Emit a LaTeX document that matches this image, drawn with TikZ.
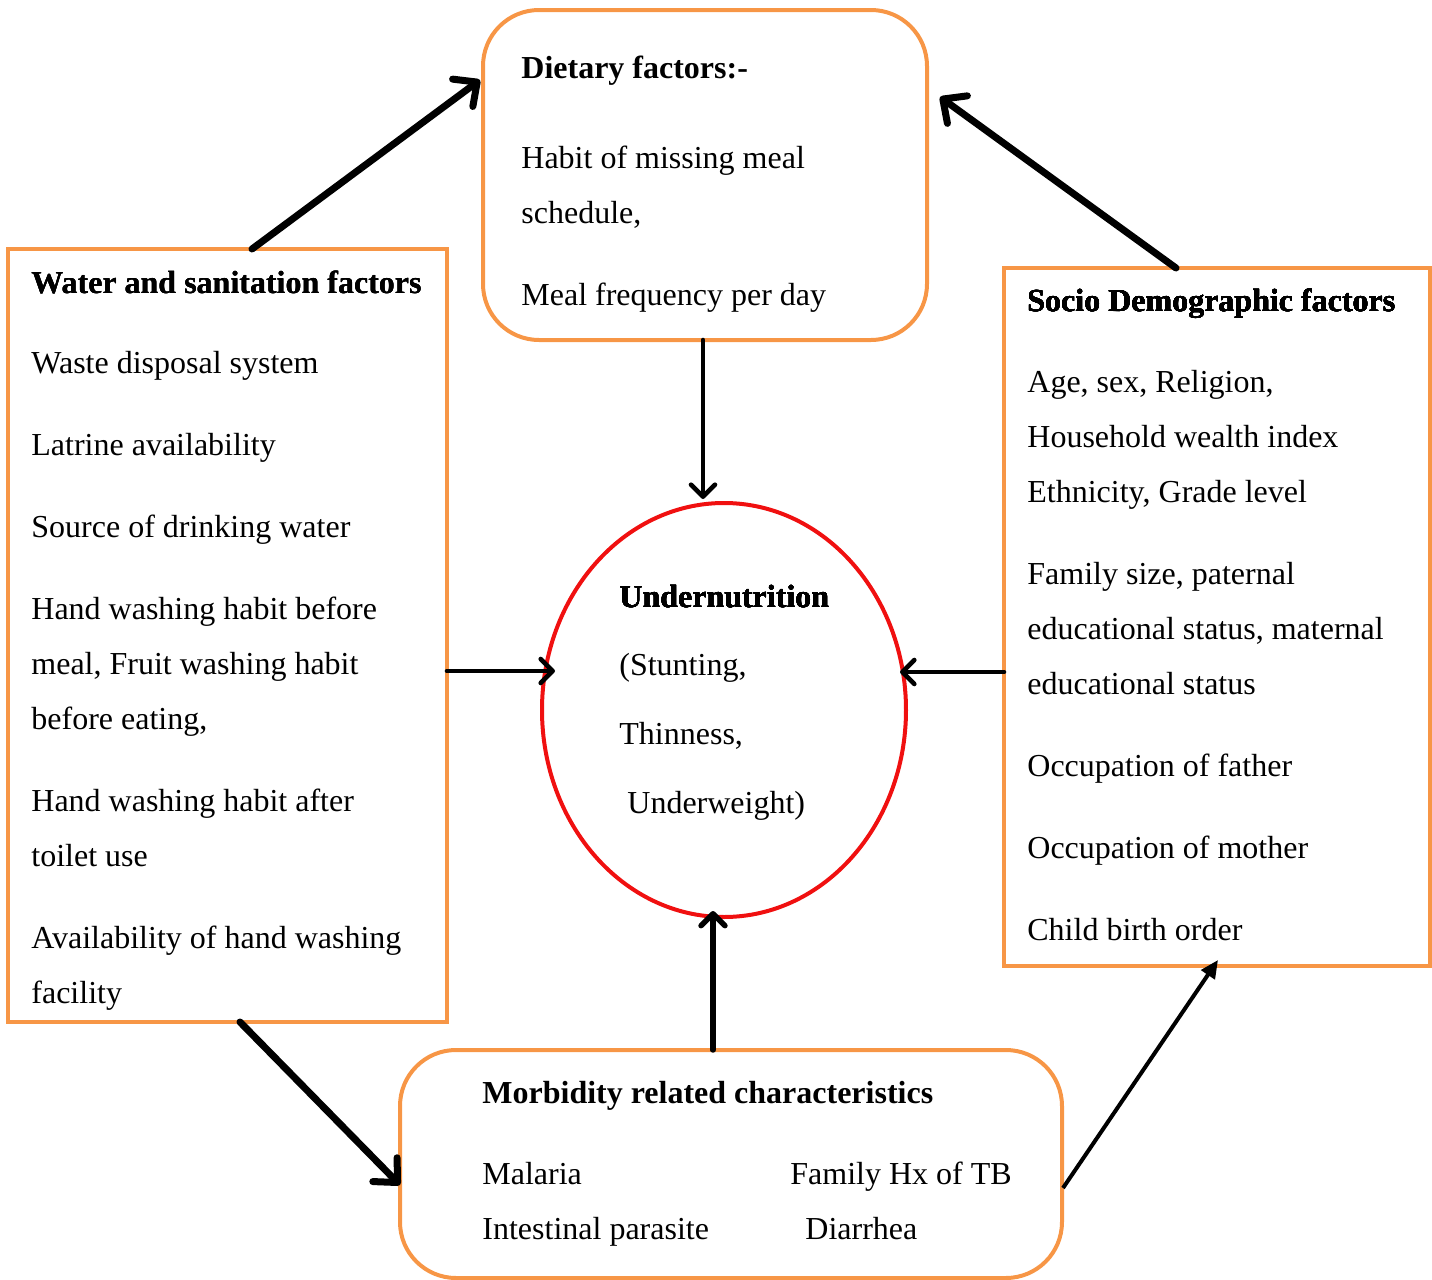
\documentclass[tikz,border=0pt]{standalone}
\usepackage{fontspec}
\setmainfont{Liberation Serif}
\usetikzlibrary{calc}
\usetikzlibrary{shapes.geometric}
\usetikzlibrary{arrows.meta}
\definecolor{box-orange}{HTML}{F79646}
\definecolor{oval-red}{HTML}{F01010}
\tikzstyle{factorbox}=[draw=box-orange,line width=2pt,inner sep=0pt,outer sep=0pt]
\tikzstyle{roundbox}=[factorbox,rounded corners=28pt]
\tikzstyle{factortext}=[anchor=base west,inner sep=0pt,font=\fontsize{16}{19}\selectfont]
\tikzstyle{titletext}=[factortext,font=\fontsize{16}{19}\selectfont\bfseries]
\tikzstyle{bigarrow}=[line width=3.5pt,line cap=round,-{Straight Barb[length=9pt,width=17pt,round]}]
\tikzstyle{midarrow}=[line width=2.3pt,line cap=round,-{Straight Barb[length=6pt,width=12pt,round]}]
\tikzstyle{thinarrow}=[line width=2pt,-{Triangle[length=9pt,width=8pt]}]
\newcommand{\factorline}[4]{
  \node[factortext] (#1) at (#2,#3) {#4};
}
\begin{document}
\begin{tikzpicture}[x=0.5pt,y=-0.5pt]
	\useasboundingbox (0,0) rectangle (1432,1280);
	% boxes
	\node[roundbox,minimum width=222pt,minimum height=165pt] (diet) at (705,175) {};
	\node[factorbox,minimum width=219.5pt,minimum height=386.5pt] (water) at (227.5,635.5) {};
	\node[factorbox,minimum width=213pt,minimum height=349pt] (socio) at (1217,617) {};
	\node[roundbox,minimum width=331pt,minimum height=114pt] (morb) at (731,1164) {};
	\node[ellipse,draw=oval-red,line width=2pt,minimum width=182pt,minimum height=207pt,inner sep=0pt] (under) at (724,710) {};
	% dietary factors
	\node[titletext] (dtitle) at (521,78) {Dietary factors:-};
	\foreach \y/\t [count=\i] in {168/{Habit of missing meal},223/{schedule,},305/{Meal frequency per day}}
		\factorline{d\i}{521}{\y}{\t}
	% water and sanitation
	\node[titletext] (wtitle) at (31,293) {Water and sanitation factors};
	\foreach \y/\t [count=\i] in {373/{Waste disposal system},455/{Latrine availability},537/{Source of drinking water},619/{Hand washing habit before},674/{meal, Fruit washing habit},729/{before eating,},811/{Hand washing habit after},866/{toilet use},948/{Availability of hand washing},1003/{facility}}
		\factorline{w\i}{31}{\y}{\t}
	% socio demographic
	\node[titletext] (stitle) at (1027,311) {Socio Demographic factors};
	\foreach \y/\t [count=\i] in {392/{Age, sex, Religion,},447/{Household wealth index},502/{Ethnicity, Grade level},584/{Family size, paternal},639/{educational status, maternal},694/{educational status},776/{Occupation of father},858/{Occupation of mother},940/{Child birth order}}
		\factorline{s\i}{1027}{\y}{\t}
	% undernutrition
	\node[titletext] (utitle) at (619,607) {Undernutrition};
	\factorline{u1}{619}{675}{(Stunting,}
	\factorline{u2}{619}{744}{Thinness,}
	\factorline{u3}{627}{813}{Underweight)}
	% morbidity
	\node[titletext] (mtitle) at (482,1103) {Morbidity related characteristics};
	\factorline{m1}{482}{1184}{Malaria}
	\factorline{m2}{482}{1239}{Intestinal parasite}
	\factorline{m3}{790}{1184}{Family Hx of TB}
	\factorline{m4}{805}{1239}{Diarrhea}
	% connectors
	\draw[bigarrow] ($(water.north)+(24.5,0)$) -- ($(diet.west)+(-3,-95)$);
	\draw[bigarrow] ($(socio.north)+(-41,0)$) -- ($(diet.east)+(13,-78)$);
	\draw[midarrow] ($(diet.south)+(-2,0)$) -- ($(under.north)+(-21,-2)$);
	\draw[midarrow] ($(water.east)+(0,35.5)$) -- ($(under.west)+(15,-39)$);
	\draw[midarrow] ($(socio.west)+(0,55)$) -- ($(under.east)+(-8,-38)$);
	\draw[line width=2.7pt,line cap=round,-{Straight Barb[length=6pt,width=12pt,round]}] ($(morb.north)+(-18,0)$) -- ($(under.south)+(-11,-8)$);
	\draw[bigarrow] ($(water.south)+(12.5,0)$) -- ($(morb.west)+(0,21)$);
	\draw[thinarrow] ($(morb.east)+(1,24)$) -- ($(socio.south)+(1,-6)$);
\end{tikzpicture}
\end{document}
